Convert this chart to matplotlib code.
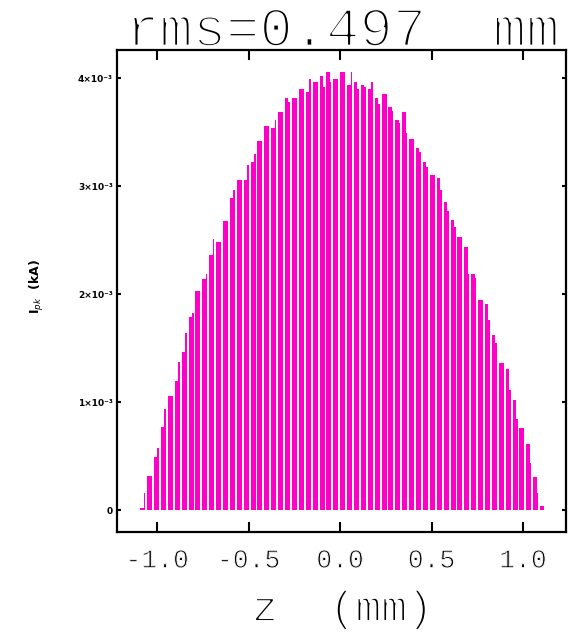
import numpy as np
import matplotlib
matplotlib.use("Agg")
import matplotlib.pyplot as plt
import matplotlib.patheffects as pe

# histogram of the bunch current, bins in z (mm), values in units of 1e-3 kA
z_start = -1.093
bin_width = 0.01885
current = [
    0.02, 0.16, 0.32, 0.32, 0.49, 0.58, 0.77, 0.94, 1.06, 1.06,
    1.20, 1.37, 1.47, 1.64, 1.79, 1.83, 2.03, 2.03, 2.14, 2.19,
    2.36, 2.51, 2.48, 2.48, 2.68, 2.68, 2.89, 2.96, 3.06, 3.06,
    3.06, 3.20, 3.22, 3.30, 3.42, 3.42, 3.56, 3.56, 3.54, 3.61,
    3.69, 3.69, 3.82, 3.78, 3.82, 3.82, 3.90, 3.90, 3.87, 3.99,
    3.96, 3.96, 4.02, 3.92, 4.06, 3.96, 3.99, 3.99, 4.06, 4.06,
    3.94, 4.06, 3.96, 3.90, 3.94, 3.92, 3.90, 3.96, 3.82, 3.76,
    3.85, 3.85, 3.73, 3.70, 3.61, 3.58, 3.69, 3.49, 3.44, 3.44,
    3.35, 3.32, 3.22, 3.18, 3.10, 3.10, 3.08, 2.96, 2.85, 2.77,
    2.69, 2.62, 2.53, 2.53, 2.44, 2.19, 2.19, 2.15, 1.95, 1.95,
    1.91, 1.76, 1.62, 1.55, 1.36, 1.36, 1.31, 1.11, 1.02, 0.85,
    0.76, 0.76, 0.61, 0.44, 0.31, 0.16, 0.04, 0.0,
]
x_ticks = [-1.0, -0.5, 0.0, 0.5, 1.0]
x_labels = ["-1.0", "-0.5", "0.0", "0.5", "1.0"]
y_ticks = [0, 1, 2, 3, 4]
y_labels = ["0", "1×10⁻³", "2×10⁻³", "3×10⁻³", "4×10⁻³"]

mono = "Liberation Mono"
pink = "#ff00c8"


def thin(lw):
    # white outline over the glyphs makes the mono font look like a light one
    return [pe.Normal(), pe.Stroke(linewidth=lw, foreground="white")]


fig = plt.figure(figsize=(5.81, 6.32), dpi=100)
ax = fig.add_axes([0.2014, 0.1582, 0.7728, 0.7627])

z = z_start + bin_width * np.arange(len(current))
# every second bin is drawn narrower, leaving the thin white gaps
widths = np.where(np.arange(len(current)) % 2 == 0, bin_width, bin_width * 0.45)
ax.bar(z, current, width=widths, align="edge", color=pink, linewidth=0)

ax.set_xlim(-1.22, 1.235)
ax.set_ylim(-0.2, 4.26)

ax.set_xticks(x_ticks)
ax.set_xticklabels(x_labels, fontfamily=mono, fontsize=19)
for t in ax.get_xticklabels():
    t.set_path_effects(thin(0.7))
ax.set_yticks(y_ticks)
ax.set_yticklabels(y_labels, fontsize=6.5, fontweight="bold")
ax.tick_params(axis="x", direction="in", length=7, width=1.5, pad=12,
               top=True, bottom=True)
ax.tick_params(axis="y", direction="in", length=3, width=1.5, pad=3,
               left=True, right=True)
for s in ax.spines.values():
    s.set_linewidth(1.6)

fig.text(0.589, 1 - 46 / 632, "rms=0.497  mm", family=mono, fontsize=40,
         ha="center", va="baseline", path_effects=thin(2.0))
fig.text(0.589, 1 - 621 / 632, "z  (mm)", family=mono, fontsize=31,
         ha="center", va="baseline", path_effects=thin(1.4))
fig.text(37 / 581, 1 - 287 / 632, "I$_{pk}$  (kA)", fontsize=9,
         fontweight="bold", rotation=90, ha="center", va="center")

fig.savefig("out.png", dpi=100)
